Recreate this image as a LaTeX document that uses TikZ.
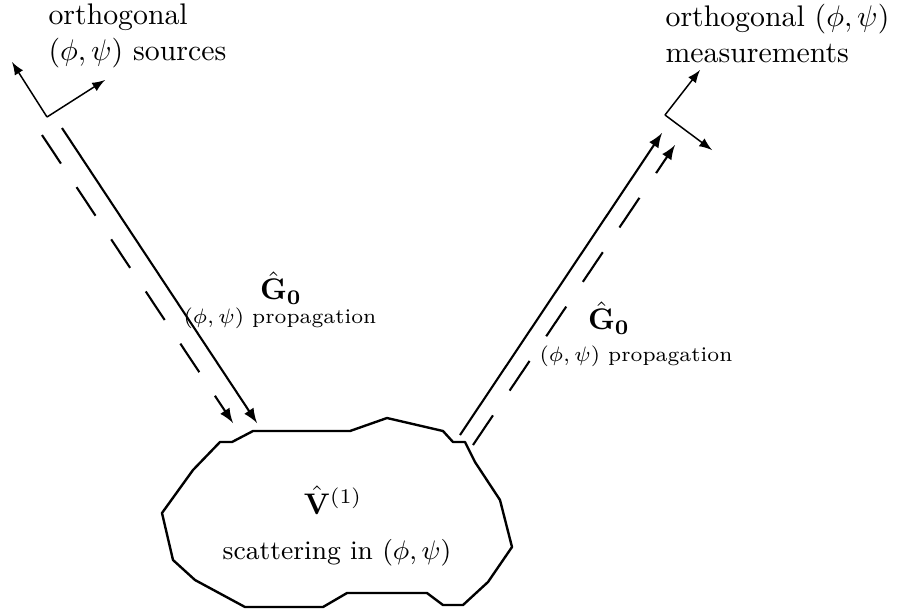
\documentclass[tikz,border=0pt]{standalone}
\begin{document}
\begin{tikzpicture}[x=0.0118cm, y=-0.0118cm, line join=round,
    beam/.style={line width=0.7pt, -latex},
    dashbeam/.style={beam, dash pattern=on 11.5pt off 9.5pt},
    axisarrow/.style={line width=0.5pt, -latex}]
    \useasboundingbox (0,0) rectangle (900,613);

    % scatterer
    \draw[line width=0.8pt] (220,442) -- (232,442) -- (253,431) -- (350,431)
      -- (387,418) -- (443,431) -- (453,442) -- (465,442) -- (475,462)
      -- (500,500) -- (512,547) -- (488,582) -- (463,605) -- (443,605)
      -- (427,593) -- (347,593) -- (323,607) -- (245,607) -- (195,580)
      -- (173,560) -- (162,513) -- (193,470) -- cycle;
    \node (V) at (333,500) {$\hat{\mathbf{V}}^{(1)}$};
    \node (scat) at (337,553) {\small scattering in $(\phi,\psi)$};

    % sources
    \coordinate (src) at (47,117);
    \coordinate (srcU) at (12,62);
    \coordinate (srcV) at (105,80);
    \draw[axisarrow] (src) -- (srcU);
    \draw[axisarrow] (src) -- (srcV);
    \node[anchor=north west, inner sep=0pt, align=left] (srclabel) at (48,3)
      {orthogonal\\$(\phi,\psi)$ sources};

    % measurements
    \coordinate (meas) at (665,115);
    \coordinate (measU) at (700,70);
    \coordinate (measV) at (712,150);
    \draw[axisarrow] (meas) -- (measU);
    \draw[axisarrow] (meas) -- (measV);
    \node[anchor=north west, inner sep=0pt, align=left] (measlabel) at (665,4)
      {orthogonal $(\phi,\psi)$\\measurements};

    % incoming propagation
    \coordinate (inA) at (62,128);
    \coordinate (inB) at (42,135);
    \coordinate (hitA) at (257,423);
    \coordinate (hitB) at (233,423);
    \draw[beam] (inA) -- (hitA);
    \draw[dashbeam] (inB) -- (hitB);
    \node (gA) at (281,288) {$\hat{\mathbf{G}}_{\mathbf{0}}$};
    \node (pA) at (280,318) {\scriptsize $(\phi,\psi)$ propagation};

    % outgoing propagation
    \coordinate (outA) at (460,435);
    \coordinate (outB) at (473,445);
    \coordinate (detA) at (662,133);
    \coordinate (detB) at (675,145);
    \draw[beam] (outA) -- (detA);
    \draw[dashbeam, dash pattern=on 12pt off 10pt] (outB) -- (detB);
    \node (gB) at (609,318) {$\hat{\mathbf{G}}_{\mathbf{0}}$};
    \node (pB) at (636,356) {\scriptsize $(\phi,\psi)$ propagation};
\end{tikzpicture}
\end{document}
